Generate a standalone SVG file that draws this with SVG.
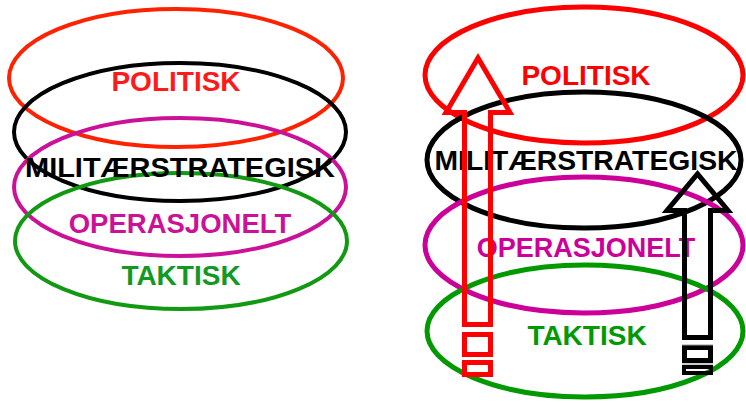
<svg xmlns="http://www.w3.org/2000/svg" width="746" height="403" viewBox="0 0 746 403">
<style>
.e{fill:none;stroke-width:4}
.e2{fill:none;stroke-width:5}
.t{font-family:"Liberation Sans",Arial,sans-serif;font-weight:bold;text-anchor:middle}
.red{stroke:#ff2200}
.blk{stroke:#000}
.mag{stroke:#cc1199}
.grn{stroke:#119911}
.r2{stroke:#ff0000}
.m2{stroke:#cc0099}
.g2{stroke:#009900}
.arr{fill:none;stroke-width:5;stroke-linejoin:miter}
</style>
<rect width="746" height="403" fill="#fff"/>
<g id="left">
  <g id="l-politisk"><ellipse class="e red" cx="176" cy="78" rx="167" ry="69"/></g>
  <g id="l-militaer"><ellipse class="e blk" cx="180" cy="132" rx="166" ry="69"/></g>
  <g id="l-operasjonelt"><ellipse class="e mag" cx="180" cy="187" rx="166" ry="69"/></g>
  <g id="l-taktisk"><ellipse class="e grn" cx="181" cy="241" rx="166" ry="68"/></g>
  <text class="t" x="176" y="91" font-size="28" fill="#ff1a1a">POLITISK</text>
  <text class="t" x="180" y="177" font-size="28" fill="#000" textLength="310" lengthAdjust="spacingAndGlyphs">MILITÆRSTRATEGISK</text>
  <text class="t" x="180" y="233" font-size="27.5" fill="#cc1199">OPERASJONELT</text>
  <text class="t" x="181" y="285" font-size="28" fill="#119922">TAKTISK</text>
</g>
<g id="right">
  <g id="r-politisk"><ellipse class="e2 r2" cx="584" cy="75" rx="159" ry="68"/></g>
  <g id="r-militaer"><ellipse class="e2 blk" cx="584" cy="160" rx="157" ry="68"/></g>
  <g id="r-operasjonelt"><ellipse class="e2 m2" cx="584" cy="245" rx="159" ry="68"/></g>
  <g id="r-taktisk"><ellipse class="e2 g2" cx="585" cy="331" rx="158" ry="66"/></g>
  <text class="t" x="586" y="85" font-size="28" fill="#ff0000">POLITISK</text>
  <text class="t" x="586" y="170" font-size="28" fill="#000" textLength="303" lengthAdjust="spacingAndGlyphs">MILITÆRSTRATEGISK</text>
  <text class="t" x="586" y="257" font-size="27" fill="#cc0099">OPERASJONELT</text>
  <text class="t" x="587" y="345" font-size="28" fill="#009900">TAKTISK</text>
</g>
<g id="connectors">
  <g id="red-arrow" stroke="#ff0000">
    <polygon class="arr" points="464.5,324.5 464.5,112.5 446,112.5 478,58 510,112.5 490.5,112.5 490.5,324.5"/>
    <rect class="arr" x="464.5" y="334.5" width="26" height="20"/>
    <rect class="arr" x="464.5" y="362.5" width="26" height="12"/>
  </g>
  <g id="black-arrow" stroke="#000">
    <polygon class="arr" points="684.5,337.5 684.5,210.5 667,210.5 697.5,174 728,210.5 710.5,210.5 710.5,337.5"/>
    <rect class="arr" x="684.5" y="347.5" width="26" height="13"/>
    <rect x="684" y="367" width="27" height="6" fill="none" stroke="#000" stroke-width="4"/>
    <line x1="682" y1="345" x2="713" y2="345" stroke="#999" stroke-width="1"/>
    <line x1="682" y1="364" x2="713" y2="364" stroke="#999" stroke-width="1"/>
  </g>
</g>
</svg>
